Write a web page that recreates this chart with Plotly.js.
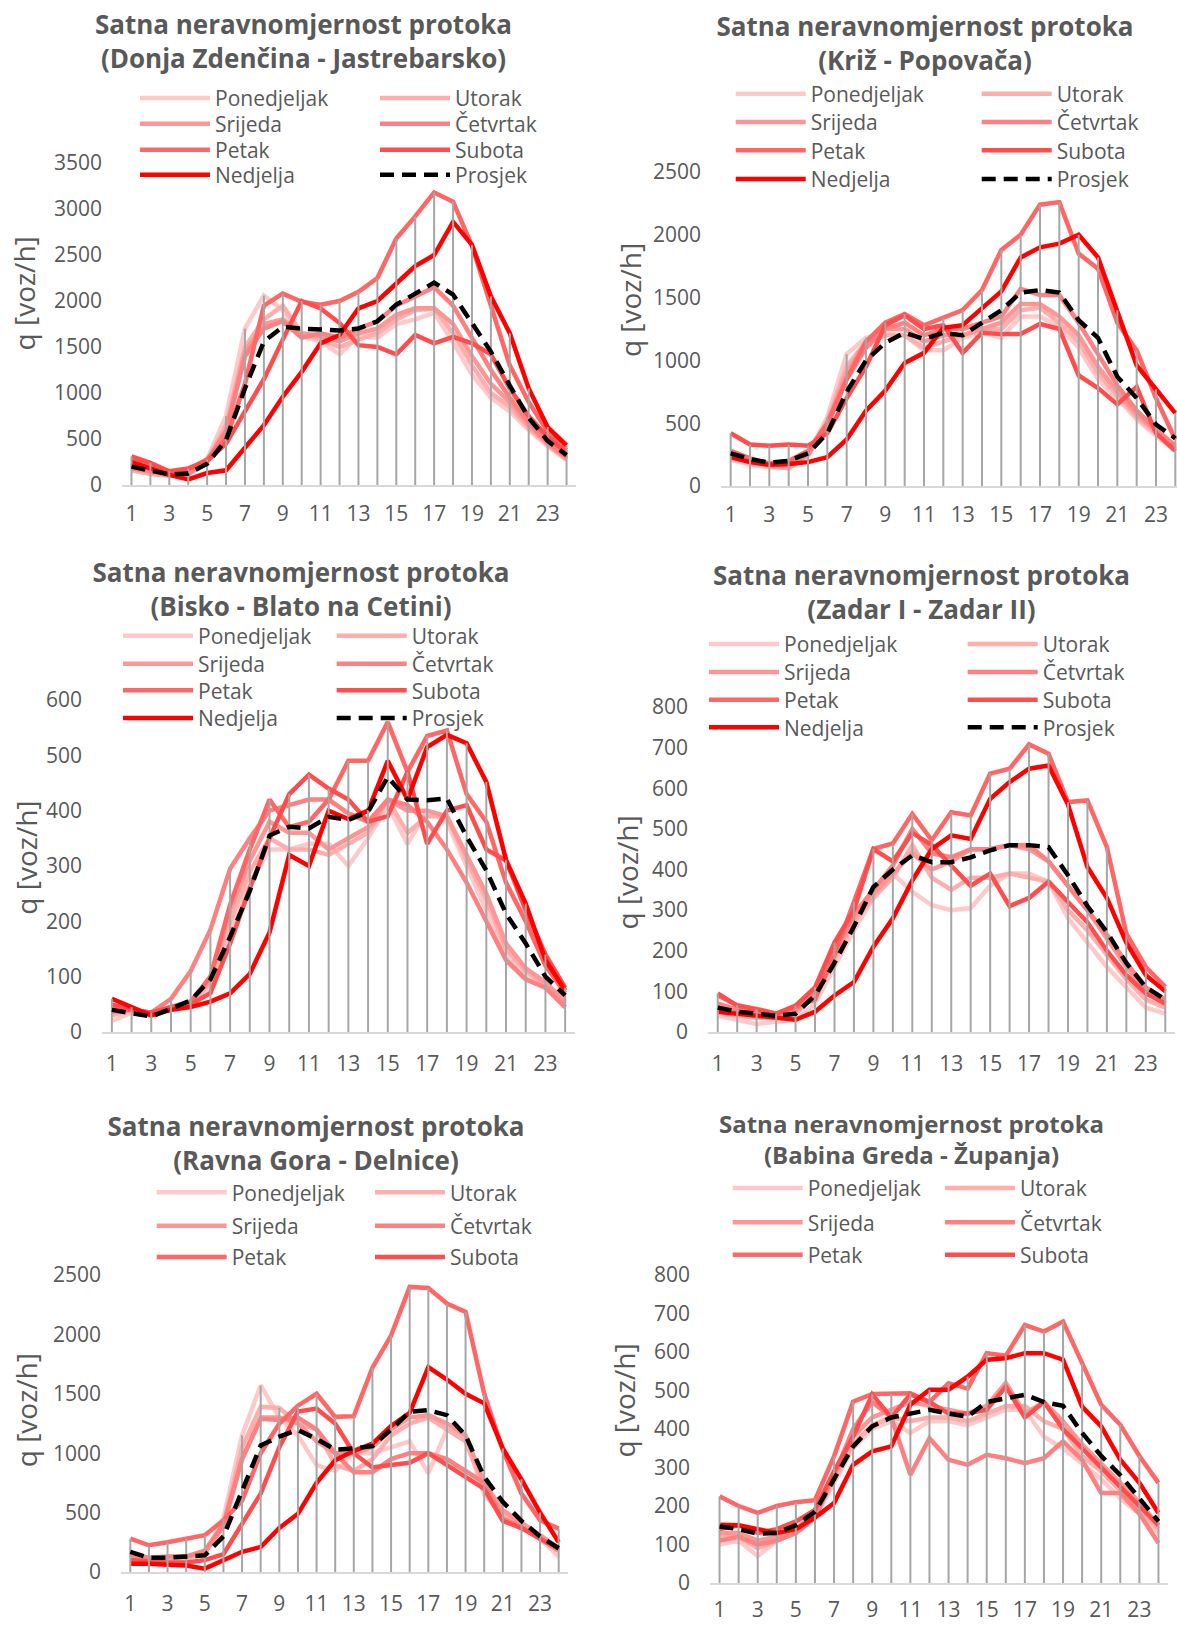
<!DOCTYPE html>
<html><head><meta charset="utf-8">
<script src="https://cdn.plot.ly/plotly-3.0.1.min.js"></script>
<style>
html,body{margin:0;padding:0;width:1177px;height:1625px;overflow:hidden;background:#fff;position:relative}
.c{position:absolute}
</style></head><body>
<div id="c1" class="c"></div><div id="c2" class="c"></div><div id="c3" class="c"></div>
<div id="c4" class="c"></div><div id="c5" class="c"></div><div id="c6" class="c"></div>
<script>
const hours = [1,2,3,4,5,6,7,8,9,10,11,12,13,14,15,16,17,18,19,20,21,22,23,24];
const tickHours = [1,3,5,7,9,11,13,15,17,19,21,23];
const dayNames = ['Ponedjeljak','Utorak','Srijeda','Četvrtak','Petak','Subota','Nedjelja','Prosjek'];
const dayColors = ['#FFC9C9','#FFADAD','#FF9696','#FF8080','#FF6666','#FF4D4D','#FF0000','#000000'];
const yTitle = 'q [voz/h]';
const mainTitle = 'Satna neravnomjernost protoka';
const sections = ['(Donja Zdenčina - Jastrebarsko)','(Križ - Popovača)','(Bisko - Blato na Cetini)','(Zadar I - Zadar II)','(Ravna Gora - Delnice)','(Babina Greda - Županja)'];

// Chart 1: Donja Zdenčina - Jastrebarsko
const pon1 = [170,130,100,110,280,750,1700,2060,1900,1620,1560,1420,1620,1600,1750,1800,1870,1550,1200,950,800,600,420,270];
const uto1 = [160,120,100,110,260,650,1500,1800,1950,1650,1580,1500,1580,1650,1800,1900,1920,1650,1300,1000,850,620,440,280];
const sri1 = [180,140,110,120,250,600,1450,1750,1800,1650,1620,1560,1650,1700,1850,1920,1920,1750,1400,1100,900,650,450,290];
const cet1 = [190,150,110,130,260,580,1400,1700,1780,1600,1650,1600,1700,1780,1950,2050,2150,1950,1600,1250,950,680,460,300];
const pet1 = [300,230,140,170,280,500,1100,1950,2080,1990,1960,2000,2100,2250,2680,2920,3180,3080,2600,1950,1300,900,580,380];
const sub1 = [310,240,150,180,260,450,800,1150,1580,2000,1920,1760,1520,1500,1420,1630,1540,1610,1540,1420,1050,750,520,350];
const ned1 = [250,180,110,60,130,160,410,650,960,1230,1540,1630,1920,2000,2190,2380,2500,2860,2610,2050,1650,1050,630,430];
const avg1 = [200,160,115,125,230,490,1050,1560,1720,1700,1690,1680,1700,1780,1960,2080,2200,2070,1750,1450,1080,730,480,325];

// Chart 2: Križ - Popovača
const pon2 = [210,170,150,150,250,550,1050,1180,1210,1200,1080,1080,1180,1220,1180,1350,1350,1270,1100,850,700,530,400,280];
const uto2 = [220,180,160,140,240,520,950,1150,1200,1200,1100,1150,1200,1250,1250,1400,1420,1300,1150,900,720,550,420,290];
const sri2 = [230,190,160,160,250,500,900,1150,1250,1250,1150,1200,1200,1250,1300,1450,1450,1350,1200,950,750,570,430,300];
const cet2 = [250,200,170,170,260,480,850,1100,1250,1300,1200,1250,1250,1300,1350,1570,1520,1520,1300,1050,800,600,450,320];
const pet2 = [280,220,180,200,280,500,850,1150,1300,1370,1280,1340,1400,1560,1880,2000,2240,2260,1850,1730,1300,1080,700,370];
const sub2 = [420,330,320,330,320,420,700,950,1280,1360,1250,1280,1060,1220,1210,1210,1290,1250,880,780,650,790,420,280];
const ned2 = [230,190,170,175,190,230,370,600,760,980,1060,1260,1280,1420,1550,1820,1900,1930,2000,1820,1400,960,770,580];
const avg2 = [260,215,185,200,260,420,750,1000,1140,1220,1170,1220,1200,1300,1400,1540,1560,1540,1320,1180,870,700,490,380];

// Chart 3: Bisko - Blato na Cetini
const pon3 = [20,35,30,40,45,80,180,270,330,330,340,340,300,350,410,340,400,380,300,220,140,100,80,45];
const uto3 = [30,40,30,45,50,90,200,290,350,330,330,320,340,360,420,360,390,390,310,240,150,110,85,50];
const sri3 = [35,40,30,45,55,95,220,310,380,360,360,330,350,370,420,400,400,390,320,250,160,115,90,55];
const cet3 = [40,40,35,60,110,185,295,350,400,410,420,420,395,380,420,410,380,330,270,200,130,95,80,45];
const pet3 = [45,40,35,45,55,100,230,330,420,370,380,420,490,490,560,470,535,545,430,380,270,200,120,70];
const sub3 = [50,40,35,45,50,70,160,260,350,430,465,440,420,380,390,470,340,400,410,330,310,220,140,80];
const ned3 = [60,45,30,40,45,55,70,105,180,320,300,400,385,400,490,420,515,537,522,452,311,232,130,75];
const avg3 = [40,33,28,42,57,95,172,255,355,371,368,389,383,398,461,420,419,422,353,292,214,160,100,66];

// Chart 4: Zadar I - Zadar II
const pon4 = [40,30,20,25,30,70,160,250,330,390,345,312,300,305,360,390,390,370,280,220,160,110,60,45];
const uto4 = [50,40,35,35,45,90,180,270,330,380,460,380,350,380,380,390,380,370,300,250,190,130,80,60];
const sri4 = [60,50,40,40,50,100,190,280,340,390,440,400,420,450,450,460,450,420,360,300,230,160,100,70];
const cet4 = [70,55,45,40,55,105,200,290,350,410,500,440,430,450,450,460,460,420,360,300,240,170,110,80];
const pet4 = [90,66,57,45,62,80,190,320,451,464,537,472,541,533,636,648,708,685,566,570,455,242,160,111];
const sub4 = [95,65,55,45,65,110,220,300,450,420,490,460,410,360,390,310,330,370,320,270,200,140,95,70];
const ned4 = [50,45,38,35,30,50,90,123,210,280,373,450,484,475,574,615,648,656,560,406,330,220,140,100];
const avg4 = [60,50,45,40,45,90,170,260,357,400,435,418,418,430,447,460,460,455,386,310,246,170,110,80];

// Chart 5: Ravna Gora - Delnice
const pon5 = [120,100,100,110,150,450,1150,1570,1300,1150,900,850,1000,1000,1050,1100,830,1200,1150,650,480,380,280,130];
const uto5 = [130,110,110,120,160,400,1050,1390,1380,1250,1200,900,850,950,1150,1250,1300,1200,1100,700,500,400,290,180];
const sri5 = [140,110,120,130,170,380,950,1300,1300,1250,1100,1000,1000,1050,1200,1300,1320,1250,1150,750,520,420,310,200];
const cet5 = [150,120,130,130,180,400,950,1290,1280,1300,1200,1000,840,840,950,1000,1000,950,850,750,450,380,280,180];
const pet5 = [280,225,250,280,310,435,600,1000,1250,1400,1500,1306,1312,1720,1990,2400,2390,2260,2190,1500,1025,660,435,365];
const sub5 = [100,90,80,80,100,150,400,660,1050,1350,1375,1250,1000,880,900,920,1000,900,800,700,430,370,280,200];
const ned5 = [70,70,60,55,28,100,170,210,370,490,750,940,1020,1080,1230,1340,1725,1620,1500,1420,1040,780,500,250];
const avg5 = [169,120,120,130,140,300,690,1065,1140,1195,1120,1030,1040,1060,1200,1348,1362,1320,1150,800,590,430,300,200];

// Chart 6: Babina Greda - Županja
const pon6 = [100,110,70,110,130,170,260,350,400,420,390,420,420,410,430,450,450,380,350,310,270,220,180,130];
const uto6 = [120,120,90,110,130,170,270,360,410,430,420,430,430,420,440,460,460,420,400,330,290,240,190,140];
const sri6 = [130,130,110,120,140,180,280,380,430,450,470,460,450,440,460,520,440,470,420,360,310,260,210,150];
const cet6 = [110,120,100,110,130,170,280,400,470,430,281,376,320,307,333,324,311,324,368,320,234,234,180,104];
const pet6 = [225,200,182,200,210,215,329,471,491,491,493,470,519,505,597,590,670,653,679,571,463,411,330,260];
const sub6 = [140,150,130,140,160,190,290,380,490,430,490,470,440,440,450,510,430,470,400,350,300,250,200,150];
const ned6 = [151,150,140,130,140,170,208,307,342,355,463,502,502,536,580,584,597,597,580,458,407,320,260,182];
const avg6 = [147,140,128,130,150,185,270,355,407,430,440,450,440,432,470,480,489,470,460,390,330,280,220,160];

const FONT = 'Open Sans, sans-serif';
const GREY = '#595959';

function build(o){
  const el = document.getElementById(o.id);
  el.style.left = o.left+'px'; el.style.top = o.top+'px';
  el.style.width = o.W+'px'; el.style.height = o.H+'px';
  const W=o.W, H=o.H;
  const layout = {
    width:W, height:H, paper_bgcolor:'#fff', plot_bgcolor:'rgba(0,0,0,0)',
    margin:{l:o.pL-o.left, r:o.left+W-o.pR, t:o.pT-o.top, b:o.top+H-o.pB, pad:0, autoexpand:false},
    font:{family:FONT, color:GREY},
    title:{text:mainTitle+'<br>'+o.sub, xref:'container', yref:'container', x:(o.tX-o.left)/W, xanchor:'center',
      y:1-(o.tTop-o.top)/H, yanchor:'top', pad:{t:0,b:0,l:0,r:0},
      font:{family:FONT, size:o.tSize, color:GREY, weight:'bold'}},
    xaxis:{range:[0.5,24.5], tickmode:'array', tickvals:tickHours, ticks:'', ticklen:0, showgrid:false, zeroline:false,
      showline:true, linecolor:'#D9D9D9', linewidth:1.5, automargin:false, ticklabelstandoff:o.xStand,
      tickfont:{family:FONT, size:21, color:GREY}, fixedrange:true},
    yaxis:{range:[0,o.ymax], dtick:o.dtick, tick0:0, ticks:'', ticklen:0, showgrid:false, zeroline:false, showline:false,
      automargin:false, ticklabelstandoff:19, tickfont:{family:FONT, size:21, color:GREY}, fixedrange:true},
    annotations:[{text:yTitle, textangle:-90, showarrow:false, xref:'paper', yref:'paper',
      x:0, xshift:o.yTx-o.pL, xanchor:'center', y:(o.pB-o.yTy)/(o.pB-o.pT), yanchor:'middle',
      font:{family:FONT, size:28, color:GREY}}],
    showlegend:true
  };
  const traces = [];
  for(let k=0;k<8;k++){
    const lg = k===0 ? 'legend' : 'legend'+(k+1);
    traces.push({type:'scatter', mode:'lines', x:hours, y:o.series[k], name:dayNames[k], legend:lg,
      showlegend:k<o.nLeg, hoverinfo:'skip',
      line:{color:dayColors[k], width:4.5, dash:k===7?'14px,8px':'solid'}});
    const col=k%2, row=Math.floor(k/2);
    if(row < o.rows.length){
      layout[lg] = {xref:'container', yref:'container', orientation:'v',
        x:(o.cols[col]-o.left-5)/W, xanchor:'left', y:1-(o.rows[row]-o.top)/H, yanchor:'middle',
        bgcolor:'rgba(0,0,0,0)', borderwidth:0, itemwidth:70, itemclick:false, itemdoubleclick:false,
        font:{family:FONT, size:21, color:GREY}};
    }
  }
  const dx=[], dy=[];
  hours.forEach((h,i)=>{
    let m=0; for(let k=0;k<8;k++) m=Math.max(m,o.series[k][i]);
    dx.push(h,h,null); dy.push(0,m,null);
  });
  const drop = {type:'scatter', mode:'lines', x:dx, y:dy, showlegend:false, hoverinfo:'skip',
    line:{color:'#A6A6A6', width:2}};
  const data = traces.slice(0,7).concat([drop, traces[7]]);
  Plotly.newPlot(el, data, layout, {displayModeBar:false, staticPlot:true});
}

build({id:'c1', left:0, top:0, W:588, H:540, pL:122.1, pR:576.4, pT:163, pB:485, ymax:3500, dtick:500,
  sub:sections[0], tX:303.5, tTop:34, tSize:26, xStand:9, nLeg:8, yTx:24.5, yTy:293,
  cols:[140,380], rows:[98.3,124,150,175], series:[pon1,uto1,sri1,cet1,pet1,sub1,ned1,avg1]});
build({id:'c2', left:588, top:0, W:600, H:540, pL:720.6, pR:1185, pT:171.7, pB:486, ymax:2500, dtick:500,
  sub:sections[1], tX:925, tTop:36, tSize:26, xStand:9, nLeg:8, yTx:629, yTy:299.5,
  cols:[735.7,981.7], rows:[94,122.3,150.7,179.3], series:[pon2,uto2,sri2,cet2,pet2,sub2,ned2,avg2]});
build({id:'c3', left:0, top:540, W:588, H:540, pL:102.3, pR:575.3, pT:700, pB:1031.7, ymax:600, dtick:100,
  sub:sections[2], tX:301, tTop:582, tSize:26, xStand:12, nLeg:8, yTx:26.3, yTy:857.5,
  cols:[123,336.7], rows:[636,664,690.7,718.3], series:[pon3,uto3,sri3,cet3,pet3,sub3,ned3,avg3]});
build({id:'c4', left:588, top:540, W:589, H:540, pL:708.4, pR:1175.3, pT:706.7, pB:1031.7, ymax:800, dtick:100,
  sub:sections[3], tX:921.5, tTop:585, tSize:26, xStand:12, nLeg:8, yTx:627.6, yTy:872,
  cols:[709,967.7], rows:[644.3,672.3,700,727.7], series:[pon4,uto4,sri4,cet4,pet4,sub4,ned4,avg4]});
build({id:'c5', left:0, top:1080, W:588, H:545, pL:121.2, pR:567.8, pT:1275, pB:1571.7, ymax:2500, dtick:500,
  sub:sections[4], tX:316, tTop:1136, tSize:26, xStand:12, nLeg:6, yTx:26.3, yTy:1410,
  cols:[156.7,375], rows:[1192.7,1226,1257.3], series:[pon5,uto5,sri5,cet5,pet5,sub5,ned5,avg5]});
build({id:'c6', left:588, top:1080, W:589, H:545, pL:710.3, pR:1167.9, pT:1275, pB:1583.3, ymax:800, dtick:100,
  sub:sections[5], tX:911.5, tTop:1133, tSize:24, xStand:7, nLeg:6, yTx:624, yTy:1401,
  cols:[732.7,945], rows:[1188.3,1222.7,1255], series:[pon6,uto6,sri6,cet6,pet6,sub6,ned6,avg6]});
</script>
</body></html>
